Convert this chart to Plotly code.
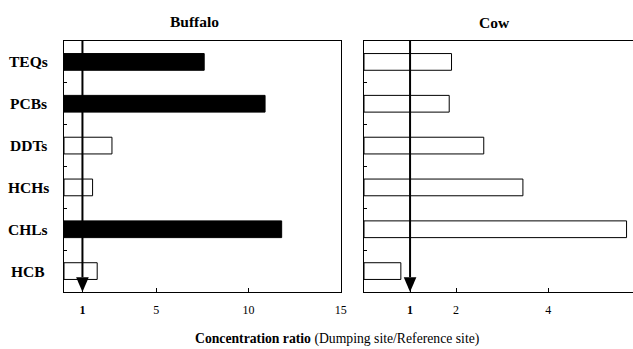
import plotly.graph_objects as go

categories = ["TEQs", "PCBs", "DDTs", "HCHs", "CHLs", "HCB"]
buffalo = [7.6, 10.9, 2.6, 1.55, 11.8, 1.8]
cow = [1.9, 1.85, 2.6, 3.45, 5.7, 0.8]
buffalo_filled = [True, True, False, False, True, False]
cow_filled = [False] * 6

buffalo_ticks = [1, 5, 10, 15]
buffalo_ticktext = ["<b>1</b>", "5", "10", "15"]
cow_ticks = [1, 2, 4]
cow_ticktext = ["<b>1</b>", "2", "4"]

FONT = "Liberation Serif"
W, H = 633, 349
ML, MR, MT, MB = 64, 0, 41, 57
PW = W - ML - MR
PH = H - MT - MB

def px_x(p):
    return (p - ML) / PW

def px_y(p):
    return 1 - (p - MT) / PH

fig = go.Figure()
fig.add_trace(go.Bar(
    x=buffalo, y=categories, orientation="h", width=0.4,
    marker=dict(color=["black" if f else "white" for f in buffalo_filled],
                line=dict(color="black", width=1)),
    xaxis="x", yaxis="y", showlegend=False))
fig.add_trace(go.Bar(
    x=cow, y=categories, orientation="h", width=0.4,
    marker=dict(color=["black" if f else "white" for f in cow_filled],
                line=dict(color="black", width=1)),
    xaxis="x2", yaxis="y2", showlegend=False))

b_end = (340.7 - ML) / PW
c_start = (364 - ML) / PW

axis_common = dict(showline=True, linecolor="black", linewidth=1, ticks="inside",
                   ticklen=4, tickcolor="black", showgrid=False, zeroline=False,
                   automargin=False,
                   tickfont=dict(family=FONT, size=12, color="black"))
fig.update_layout(
    template="none",
    width=W, height=H, margin=dict(l=ML, r=MR, t=MT, b=MB, pad=0, autoexpand=False),
    paper_bgcolor="white", plot_bgcolor="white",
    bargap=0.6,
    xaxis=dict(domain=[0, b_end], range=[0, 15], tickvals=buffalo_ticks,
               ticktext=buffalo_ticktext, mirror=True, ticklabelstandoff=7,
               **axis_common),
    yaxis=dict(categoryorder="array", categoryarray=categories[::-1],
               tickson="boundaries", showticklabels=False, mirror=True,
               anchor="x", **{**axis_common, "ticklen": 3}),
    xaxis2=dict(domain=[c_start, 1], range=[0, 5.84], tickvals=cow_ticks,
                ticktext=cow_ticktext, mirror=True, anchor="y2", ticklabelstandoff=7,
                **axis_common),
    yaxis2=dict(categoryorder="array", categoryarray=categories[::-1],
                tickson="boundaries", showticklabels=False, anchor="x2",
                **{**axis_common, "ticklen": 3}),
)

# reference line at ratio 1 with arrow head
shapes = []
for xr, dom, half in (("x", "y domain", 0.343), ("x2", "y2 domain", 0.137)):
    ah = 14.7 / PH
    shapes.append(dict(type="line", xref=xr, yref=dom, x0=1, x1=1, y0=1, y1=ah,
                       line=dict(color="black", width=2)))
    shapes.append(dict(type="path", xref=xr, yref=dom,
                       path=f"M {1-half},{ah} L {1+half},{ah} L 1,0 Z",
                       fillcolor="black", line=dict(color="black", width=0)))
fig.update_layout(shapes=shapes)

ann = []
for c in categories:
    ann.append(dict(text=f"<b>{c}</b>", x=px_x(28), xref="paper", y=c, yref="y",
                    xanchor="center", yanchor="middle", showarrow=False,
                    font=dict(family=FONT, size=15.5, color="black")))
ann.append(dict(text="<b>Buffalo</b>", x=px_x(194), xref="paper", y=px_y(21.5), yref="paper",
                xanchor="center", yanchor="middle", showarrow=False,
                font=dict(family=FONT, size=15.5, color="black")))
ann.append(dict(text="<b>Cow</b>", x=px_x(494), xref="paper", y=px_y(22), yref="paper",
                xanchor="center", yanchor="middle", showarrow=False,
                font=dict(family=FONT, size=15.5, color="black")))
ann.append(dict(text="<b>Concentration ratio</b> (Dumping site/Reference site)",
                x=px_x(337), xref="paper", y=px_y(339), yref="paper",
                xanchor="center", yanchor="middle", showarrow=False,
                font=dict(family=FONT, size=13.7, color="black")))
fig.update_layout(annotations=ann)

fig.write_html("out.html",
               config={"displayModeBar": False, "responsive": False},
               post_script="document.body.style.margin='0';document.body.style.overflow='hidden';")
